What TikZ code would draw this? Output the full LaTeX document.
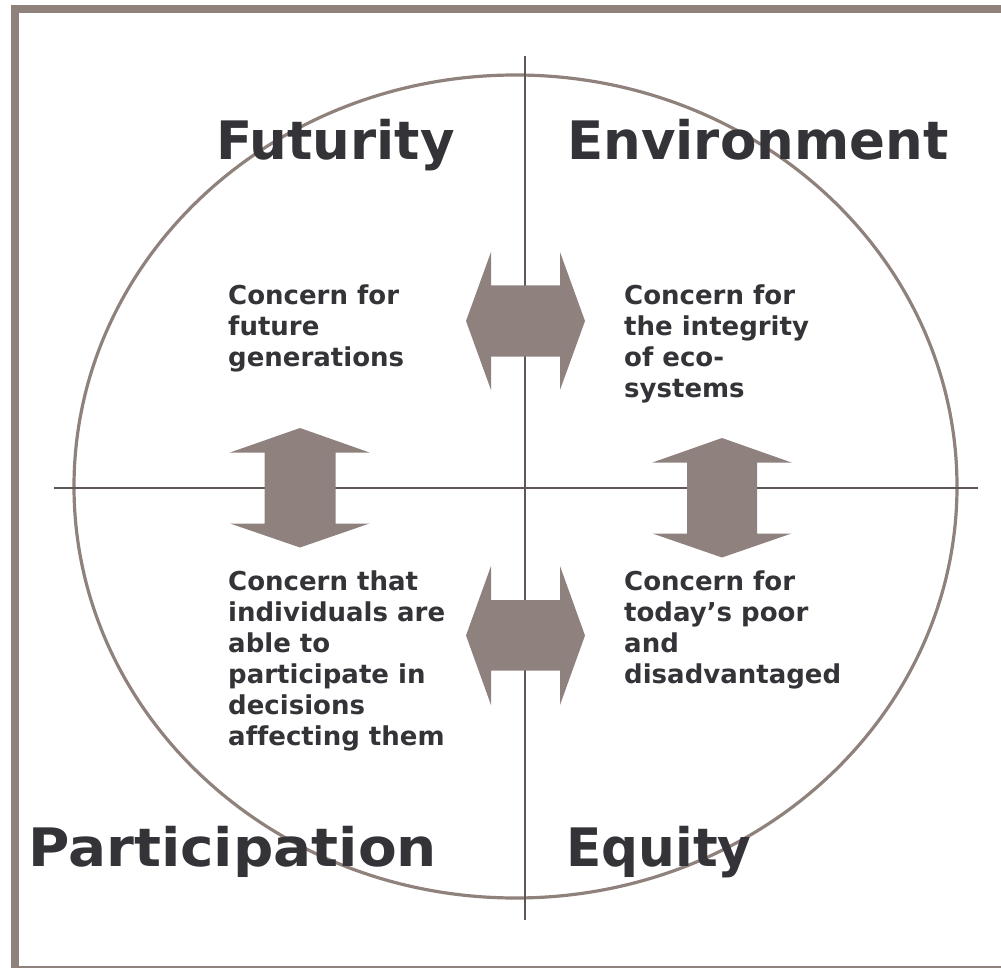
\documentclass[tikz,border=0pt]{standalone}
\usepackage{fontspec}
\setmainfont{DejaVu Sans}[Ligatures=CommonOff]
\definecolor{frame}{HTML}{8F817C}
\definecolor{arrowfill}{HTML}{8F827E}
\definecolor{axis}{HTML}{5F5656}
\definecolor{txt}{HTML}{333338}
\tikzset{
  title/.style={anchor=base west, inner sep=0pt, text=txt, font=\fontsize{53}{60}\selectfont\bfseries},
  body/.style={anchor=base west, inner sep=0pt, text=txt, align=left, font=\fontsize{26}{31}\selectfont\bfseries},
  bigarrow/.style={fill=arrowfill, draw=none},
  axisline/.style={draw=axis, line width=2pt},
  ring/.style={draw=frame, line width=3.2pt}
}
\begin{document}
\begin{tikzpicture}[x=1pt,y=-1pt]
\useasboundingbox (0,0) rectangle (1001,968);
% frame
\fill[frame] (11,5) rectangle (1001,13);
\fill[frame] (11,5) rectangle (19,968);
\fill[frame] (11,965.5) rectangle (1001,967.5);
% ellipse
\draw[ring] (515.5,486.5) ellipse [x radius=441.5, y radius=411.5];
% axes
\coordinate (hl) at (54,488);
\coordinate (hr) at (978,488);
\coordinate (vt) at (525,56);
\coordinate (vb) at (525,920);
\draw[axisline] (hl) -- (hr);
\draw[axisline] (vt) -- (vb);
% horizontal double arrows
\fill[bigarrow] (466,321) -- (491,252) -- (491,285.5) -- (560,285.5) -- (560,252) -- (585,321) -- (560,390) -- (560,356.5) -- (491,356.5) -- (491,390) -- cycle;
\fill[bigarrow] (466,635.5) -- (491,566) -- (491,600) -- (560,600) -- (560,566) -- (585,635.5) -- (560,705) -- (560,670.5) -- (491,670.5) -- (491,705) -- cycle;
% vertical double arrows
\fill[bigarrow] (300,428) -- (369.5,452.5) -- (335.5,452.5) -- (335.5,523.5) -- (369.5,523.5) -- (300,547.5) -- (230,523.5) -- (264.5,523.5) -- (264.5,452.5) -- (230,452.5) -- cycle;
\fill[bigarrow] (722,438) -- (791.5,462.5) -- (757,462.5) -- (757,533.5) -- (791.5,533.5) -- (722,557.5) -- (652.5,533.5) -- (687,533.5) -- (687,462.5) -- (652.5,462.5) -- cycle;
% titles
\node[title] (fut) at (216,160) {Futurity};
\node[title] (env) at (567,160) {Environment};
\node[title] (par) at (28,866) {\scalebox{1.065}[1]{Participation}};
\node[title] (equ) at (566,866) {\scalebox{0.975}[1]{Equity}};
% body texts (anchor = baseline of last line)
\node[body] (tfut) at (228,366) {Concern for\\future\\generations};
\node[body] (tenv) at (624,397) {Concern for\\the integrity\\of eco-\\systems};
\node[body] (tpar) at (228,745) {Concern that\\individuals are\\able to\\participate in\\decisions\\affecting them};
\node[body] (tequ) at (624,683) {Concern for\\today’s poor\\and\\disadvantaged};
\end{tikzpicture}
\end{document}
